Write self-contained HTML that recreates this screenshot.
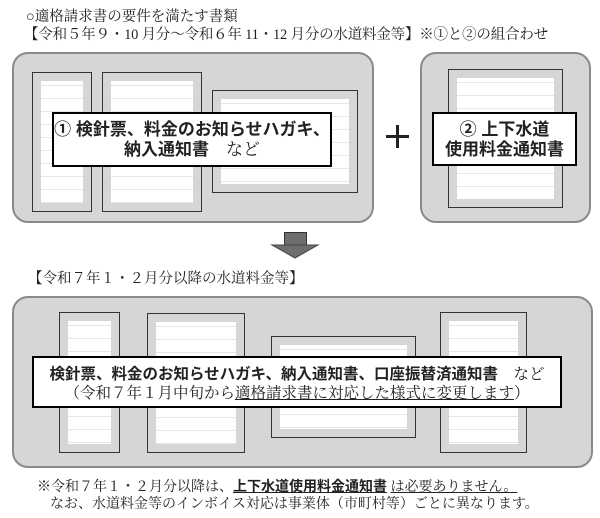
<!DOCTYPE html>
<html><head><meta charset="utf-8"><style>
*{margin:0;padding:0;box-sizing:border-box}
body{width:600px;height:518px;background:#fff;position:relative;overflow:hidden;font-family:"Liberation Serif","Noto Serif CJK SC",serif;color:#222}
.a{position:absolute}
.t{position:absolute;white-space:nowrap;font-size:14.5px;line-height:18px}
.box{position:absolute;background:#d6d6d6;border:2px solid #8a8a8a;border-radius:16px}
.doc{position:absolute;background:#fff;border:1px solid #333;
background-image:repeating-linear-gradient(180deg,transparent 0 12px,#e6e6e6 12px 13px);background-clip:content-box;padding:8px}
.lab{position:absolute;background:#fff;border:2px solid #000;text-align:center;white-space:nowrap}
.g{font-family:"Liberation Sans","Noto Sans CJK JP",sans-serif;font-weight:bold}
</style></head><body>
<div class="t" style="left:26px;top:8px">○適格請求書の要件を満たす書類</div>
<div class="t" style="left:24px;top:26px;letter-spacing:-0.2px">【令和５年９・10 月分～令和６年 11・12 月分の水道料金等】※①と②の組合わせ</div>

<div class="box" style="left:12px;top:52px;width:362px;height:171px"></div>
<div class="doc" style="left:32px;top:72px;width:60px;height:140px"></div>
<div class="doc" style="left:102px;top:72px;width:100px;height:140px"></div>
<div class="doc" style="left:212px;top:90px;width:146px;height:103px"></div>
<div class="lab g" style="left:52px;top:112px;width:280px;height:55px;font-size:17px;line-height:20px;padding-top:6px">①&nbsp;検針票、料金のお知らせハガキ、<br>納入通知書　<span style="font-family:'Liberation Serif','Noto Serif CJK SC',serif;font-weight:normal">など</span></div>
<div class="a" style="left:386px;top:135px;width:23px;height:3px;background:#222"></div>
<div class="a" style="left:396px;top:125px;width:3px;height:23px;background:#222"></div>

<div class="box" style="left:420px;top:52px;width:171px;height:171px"></div>
<div class="doc" style="left:448px;top:69px;width:115px;height:139px"></div>
<div class="lab g" style="left:432px;top:112px;width:145px;height:54px;font-size:17px;line-height:20px;padding-top:6px">②&nbsp;上下水道<br>使用料金通知書</div>

<div class="a" style="left:284px;top:232px;width:23px;height:14px;background:#6e6e6e;border:1px solid #333;border-bottom:none"></div>
<svg class="a" style="left:270px;top:244px" width="50" height="16"><polygon points="2,1 48,1 25,14" fill="#6e6e6e" stroke="#444"/></svg>

<div class="t" style="left:28px;top:270px">【令和７年１・２月分以降の水道料金等】</div>

<div class="box" style="left:12px;top:296px;width:581px;height:172px"></div>
<div class="doc" style="left:59px;top:312px;width:61px;height:141px"></div>
<div class="doc" style="left:147px;top:313px;width:98px;height:140px"></div>
<div class="doc" style="left:271px;top:336px;width:145px;height:102px"></div>
<div class="doc" style="left:440px;top:312px;width:87px;height:141px"></div>
<div class="lab" style="left:32px;top:356px;width:530px;height:52px">
<div style="position:absolute;left:0;right:0;top:7px;font-size:15.5px;line-height:20px"><span class="g">検針票、料金のお知らせハガキ、納入通知書、口座振替済通知書</span>　など</div>
<div style="position:absolute;left:0;right:0;top:26px;font-size:15.5px;line-height:20px">（令和７年１月中旬から<u>適格請求書に対応した様式に変更します</u>）</div>
</div>

<div class="t" style="left:37px;top:477px;font-size:14px">※令和７年１・２月分以降は、<u class="g">上下水道使用料金通知書</u> <u>は必要ありません。</u></div>
<div class="t" style="left:50px;top:496px;font-size:14px">なお、水道料金等のインボイス対応は事業体（市町村等）ごとに異なります。</div>
</body></html>
